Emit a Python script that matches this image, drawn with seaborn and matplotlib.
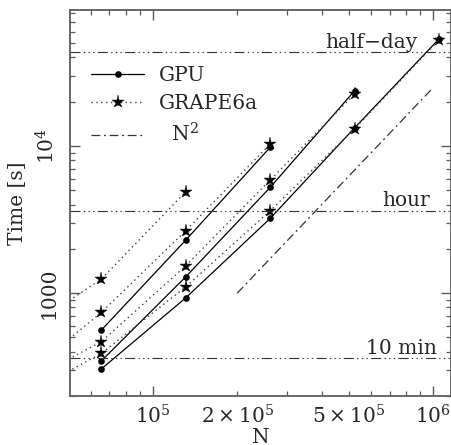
import numpy as np
import pandas as pd
import matplotlib
matplotlib.use("Agg")
import matplotlib.pyplot as plt
import matplotlib.transforms as mtransforms
from matplotlib.ticker import FixedLocator, LogLocator, FuncFormatter, NullFormatter
import seaborn as sns

# --- data ---
n_gpu = [65536, 131072, 262144, 524288, 1048576]
gpu_a = [305, 929, 3220, 13300, 53500]
gpu_b = [346, 1291, 5236, 23770]
gpu_c = [560, 2294, 9800]

n_grape = [32768, 65536, 131072, 262144, 524288, 1048576]
grape_a = [190, 389, 1104, 3630, 13100, 52800]
grape_b = [232, 467, 1534, 5873, 22580]
grape_c = [248, 739, 2655, 10320]
grape_d = [514, 1245, 4887]

n_sq = [2e5, 1e6]
t_sq = [1000, 25000]

ref_times = [43200, 3600, 360]
ref_labels = ["half\u2212day", "hour", "10 min"]
ref_label_x = [0.913, 0.945, 0.962]

# --- style ---
sns.set_style("ticks")
plt.rcParams["font.family"] = ["DejaVu Serif"]
plt.rcParams["mathtext.fontset"] = "dejavuserif"
plt.rcParams["font.size"] = 14

fig = plt.figure(figsize=(4.52, 4.45), dpi=100)
ax = fig.add_axes([70 / 452, 1 - 396 / 445, 381 / 452, 386 / 445])
ax.set_xscale("log")
ax.set_yscale("log")

gpu_kw = dict(color="black", lw=0.9, marker="o", markersize=4.8,
              markeredgewidth=0, linestyle="-")
grape_kw = dict(color="0.25", lw=1.0, marker="*", markersize=9.5,
                markerfacecolor="black", markeredgecolor="black",
                markeredgewidth=0.3, linestyle=(0, (1, 2.5)))

for i, ys in enumerate([gpu_a, gpu_b, gpu_c]):
    sns.lineplot(x=n_gpu[:len(ys)], y=ys, ax=ax, estimator=None, sort=False,
                 label="GPU" if i == 0 else None, **gpu_kw)

for i, ys in enumerate([grape_a, grape_b, grape_c, grape_d]):
    sns.lineplot(x=n_grape[:len(ys)], y=ys, ax=ax, estimator=None, sort=False,
                 label="GRAPE6a" if i == 0 else None, **grape_kw)

sns.lineplot(x=n_sq, y=t_sq, ax=ax, estimator=None, color="0.2", lw=0.9,
             linestyle=(0, (7, 3, 1.5, 3)), label="  N$^2$")

# reference time lines
trans = mtransforms.blended_transform_factory(ax.transAxes, ax.transData)
for t, lab, xl in zip(ref_times, ref_labels, ref_label_x):
    ax.axhline(t, color="0.2", lw=0.8,
               linestyle=(0, (9, 3, 1.2, 3, 1.2, 3, 1.2, 3)))
    ax.text(xl, t * 1.08, lab, transform=trans, ha="right", va="baseline",
            fontsize=14.5)

ax.set_xlim(5.07e4, 1.156e6)
ax.set_ylim(200, 8.4e4)

# ticks
ax.xaxis.set_major_locator(FixedLocator([1e5, 1e6]))
ax.xaxis.set_major_formatter(FuncFormatter(
    lambda v, p: {1e5: r"$10^5$", 1e6: r"$10^6$"}.get(v, "")))
ax.xaxis.set_minor_locator(LogLocator(base=10, subs=np.arange(2, 10), numticks=20))
ax.xaxis.set_minor_formatter(FuncFormatter(
    lambda v, p: r"$2\times10^5$" if abs(v - 2e5) < 1 else
    (r"$5\times10^5$" if abs(v - 5e5) < 1 else "")))

ax.yaxis.set_major_locator(FixedLocator([1e3, 1e4]))
ax.yaxis.set_major_formatter(FuncFormatter(
    lambda v, p: {1e3: "1000", 1e4: r"$10^4$"}.get(v, "")))
ax.yaxis.set_minor_locator(LogLocator(base=10, subs=np.arange(2, 10), numticks=20))
ax.yaxis.set_minor_formatter(NullFormatter())
for lab in ax.get_yticklabels():
    lab.set_rotation(90)
    lab.set_va("center")

ax.tick_params(which="both", direction="in", top=True, right=True,
               color="0.35", labelsize=14.5)
ax.tick_params(which="major", length=7, width=1.0, pad=6)
ax.tick_params(which="minor", length=3.5, width=0.9, pad=6)
ax.tick_params(axis="y", which="major", pad=8)
for s in ax.spines.values():
    s.set_color("0.4")
    s.set_linewidth(1.4)

ax.set_xlabel("N", fontsize=14.5, labelpad=0)
ax.set_ylabel("Time [s]", fontsize=14.5, labelpad=6)

ax.legend(loc="upper left", bbox_to_anchor=(0.035, 0.875), frameon=False,
          handlelength=2.6, handletextpad=0.75, labelspacing=0.45,
          fontsize=14.5, borderaxespad=0)

fig.savefig("out.png", dpi=100)
